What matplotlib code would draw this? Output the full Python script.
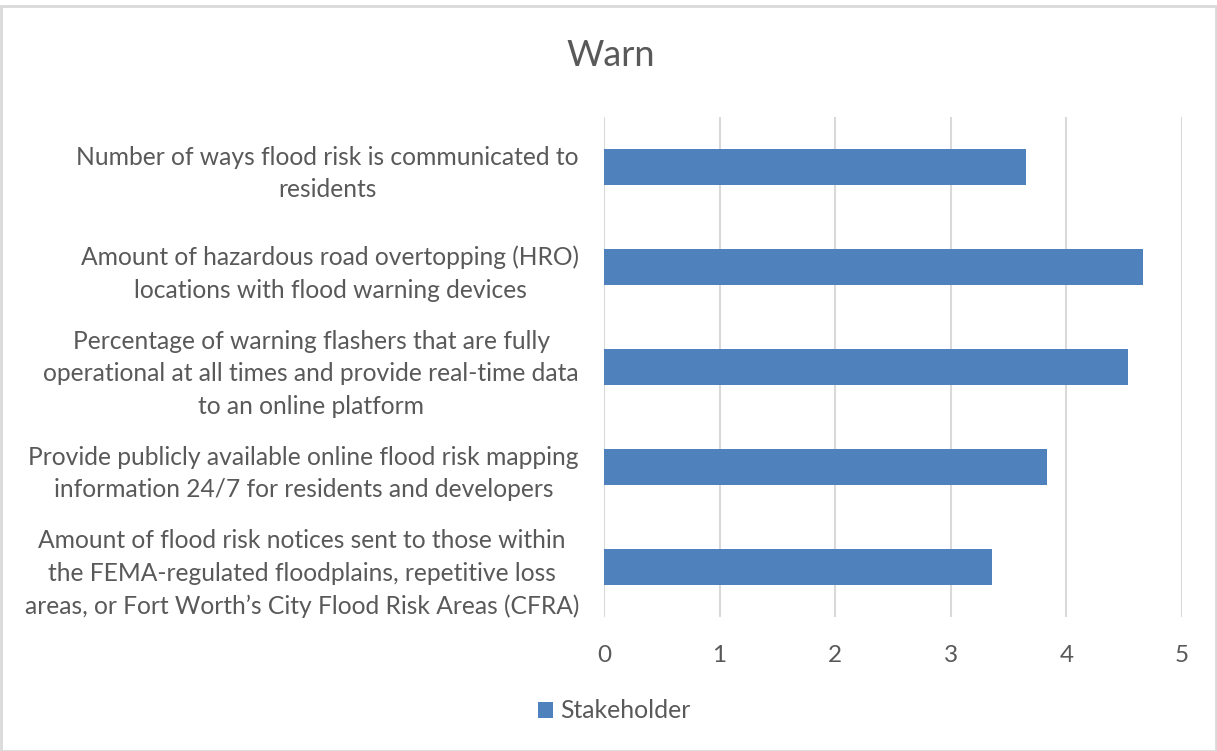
import matplotlib
matplotlib.use("Agg")
import matplotlib.pyplot as plt
from matplotlib.patches import Rectangle

plt.rcParams['font.family'] = ['Lato', 'DejaVu Sans']

categories = [
    "Number of ways flood risk is communicated to\nresidents",
    "Amount of hazardous road overtopping (HRO)\nlocations with flood warning devices",
    "Percentage of warning flashers that are fully\noperational at all times and provide real-time data\nto an online platform",
    "Provide publicly available online flood risk mapping\ninformation 24/7 for residents and developers",
    "Amount of flood risk notices sent to those within\nthe FEMA-regulated floodplains, repetitive loss\nareas, or Fort Worth\u2019s City Flood Risk Areas (CFRA)",
]
stakeholder = [3.65, 4.66, 4.53, 3.83, 3.36]
xticks = [0, 1, 2, 3, 4, 5]

fig = plt.figure(figsize=(12.17, 7.51), dpi=100)
ax = fig.add_axes([604/1217, 1-617/751, (1182-604)/1217, 500/751])

ypos = list(range(len(categories)))[::-1]
ax.barh(ypos, stakeholder, height=0.36, color='#4F81BD', label='Stakeholder', zorder=3)
ax.set_ylim(-0.5, len(categories)-0.5)
ax.set_xlim(0, 5)
ax.set_xticks(xticks)
ax.set_yticks(ypos)
ax.set_yticklabels(categories, multialignment='center', linespacing=1.5)
ax.tick_params(axis='y', length=0, pad=18, labelsize=17.7, labelcolor='#595959')
ax.tick_params(axis='x', length=0, pad=20, labelsize=17.5, labelcolor='#595959')
ax.grid(axis='x', color='#D9D9D9', linewidth=1.5, zorder=0)
for s in ax.spines.values():
    s.set_visible(False)

fig.text(611/1217, 1-55/751, "Warn", ha='center', va='center', fontsize=26, color='#595959')

leg = fig.legend(loc='center', bbox_to_anchor=(614/1217, 1-711/751), frameon=False,
                 fontsize=17.8, handlelength=0.6, handleheight=0.6, handletextpad=0.3)
for t in leg.get_texts():
    t.set_color('#595959')

fig.patches.append(Rectangle((1/1217, 0), 1-2/1217, 1-6/751, transform=fig.transFigure,
                             fill=False, edgecolor='#D9D9D9', linewidth=2))

fig.savefig('out.png', dpi=100)
